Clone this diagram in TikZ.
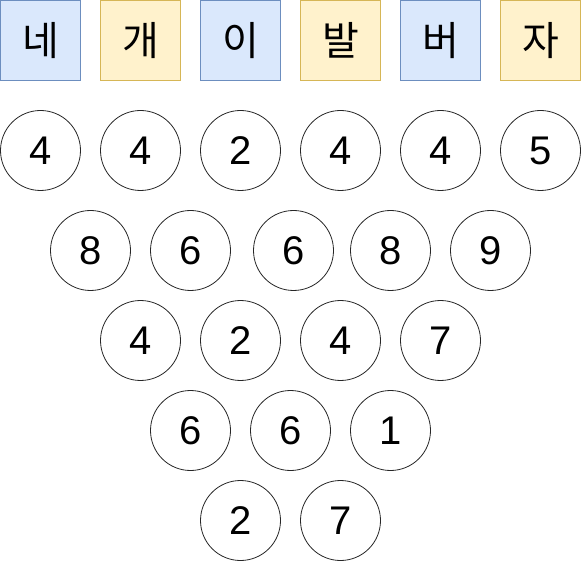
\documentclass[tikz,border=0pt]{standalone}
\usepackage{fontspec}
\setmainfont{Liberation Sans}
\newfontfamily\krfont{Noto Sans CJK KR}
\definecolor{bluefill}{HTML}{DAE8FC}
\definecolor{bluedraw}{HTML}{6C8EBF}
\definecolor{yellowfill}{HTML}{FFF2CC}
\definecolor{yellowdraw}{HTML}{D6B656}
\begin{document}
\begin{tikzpicture}[x=1pt,y=-1pt]
	\tikzstyle{letter}=[rectangle, minimum size = 80pt, inner sep=0pt, line width=1pt, font=\krfont\fontsize{40}{48}\selectfont]
	\tikzstyle{blue}=[letter, fill=bluefill, draw=bluedraw]
	\tikzstyle{yellow}=[letter, fill=yellowfill, draw=yellowdraw]
	\tikzstyle{num}=[circle, minimum size = 80pt, inner sep=0pt, line width=0.8pt, draw=black!85, font=\fontsize{40}{48}\selectfont]
	\useasboundingbox (0,0) rectangle (581,561);
	  % top row of letters
	  \node[blue] (k1) at (40.5,40.5) {네};
	  \node[yellow] (k2) at (140.5,40.5) {개};
	  \node[blue] (k3) at (240.5,40.5) {이};
	  \node[yellow] (k4) at (340.5,40.5) {발};
	  \node[blue] (k5) at (440.5,40.5) {버};
	  \node[yellow] (k6) at (540.5,40.5) {자};
	  % rows of numbers
	  \foreach \x/\v [count=\i] in {40.5/4, 140.5/4, 240.5/2, 340.5/4, 440.5/4, 540.5/5}
	    \node[num] (a\i) at (\x,150.5) {\v};
	  \foreach \x/\v [count=\i] in {90.5/8, 190.5/6, 293.5/6, 390.5/8, 490.5/9}
	    \node[num] (b\i) at (\x,250.5) {\v};
	  \foreach \x/\v [count=\i] in {140.5/4, 240.5/2, 340.5/4, 440.5/7}
	    \node[num] (c\i) at (\x,340.5) {\v};
	  \foreach \x/\v [count=\i] in {190.5/6, 290.5/6, 390.5/1}
	    \node[num] (d\i) at (\x,430.5) {\v};
	  \foreach \x/\v [count=\i] in {240.5/2, 340.5/7}
	    \node[num] (e\i) at (\x,520.5) {\v};
\end{tikzpicture}
\end{document}
